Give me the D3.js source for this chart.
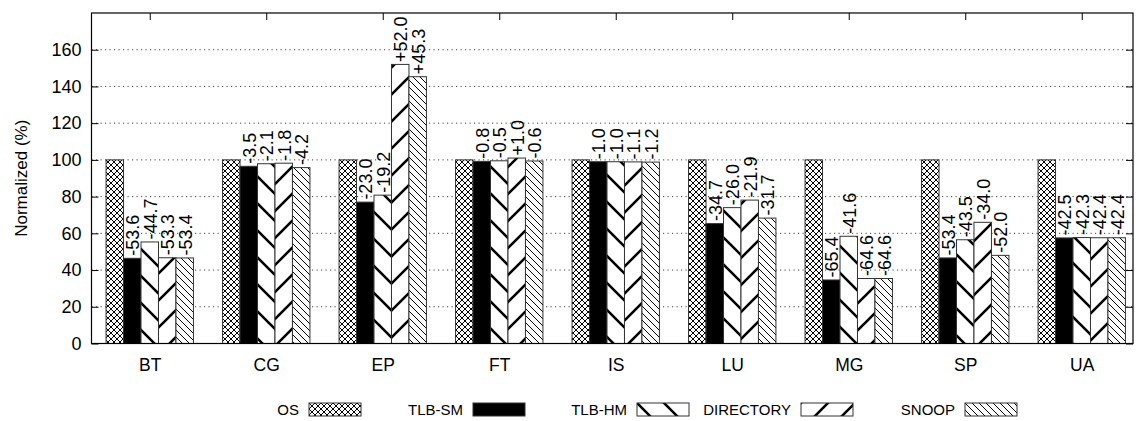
<!DOCTYPE html>
<html>
<head>
	<meta charset="utf-8">
	<title>Normalized bars</title>
	<script type="text/javascript" src="https://cdn.jsdelivr.net/npm/d3@7/dist/d3.min.js"></script>
	<style>
		body{margin:0;background:#fff;}
		svg text{font-family:"Liberation Sans",Arial,sans-serif;fill:#000;}
	</style>
</head>
<body>
	<svg width="1136" height="421"></svg>
	<script>
	/* data */
	var categories=["BT","CG","EP","FT","IS","LU","MG","SP","UA"];
	var seriesNames=["OS","TLB-SM","TLB-HM","DIRECTORY","SNOOP"];
	var osValues=[100,100,100,100,100,100,100,100,100];
	var tlbSmValues=[46.4,96.5,77.0,99.2,99.0,65.3,34.6,46.6,57.5];
	var tlbHmValues=[55.3,97.9,80.8,99.5,99.0,74.0,58.4,56.5,57.7];
	var directoryValues=[46.7,98.2,152.0,101.0,98.9,78.1,35.4,66.0,57.6];
	var snoopValues=[46.6,95.8,145.3,99.4,98.8,68.3,35.4,48.0,57.6];
	var tlbSmLabels=["-53.6","-3.5","-23.0","-0.8","-1.0","-34.7","-65.4","-53.4","-42.5"];
	var tlbHmLabels=["-44.7","-2.1","-19.2","-0.5","-1.0","-26.0","-41.6","-43.5","-42.3"];
	var directoryLabels=["-53.3","-1.8","+52.0","+1.0","-1.1","-21.9","-64.6","-34.0","-42.4"];
	var snoopLabels=["-53.4","-4.2","+45.3","-0.6","-1.2","-31.7","-64.6","-52.0","-42.4"];
	var yTicks=[0,20,40,60,80,100,120,140,160];

	var seriesValues=[osValues,tlbSmValues,tlbHmValues,directoryValues,snoopValues];
	var seriesLabels=[null,tlbSmLabels,tlbHmLabels,directoryLabels,snoopLabels];
	var fills=["url(#p-os)","#000","url(#p-hm)","url(#p-dir)","url(#p-snoop)"];

	var svg=d3.select("svg");
	var plotL=91.5,plotR=1133,plotT=13,plotB=343.5;
	var barW=0.15;

	/* patterns */
	var defs=svg.append("defs");
	var C=6;
	var pOs=defs.append("pattern").attr("id","p-os").attr("patternUnits","userSpaceOnUse")
		.attr("width",C).attr("height",C);
	pOs.append("rect").attr("width",C).attr("height",C).attr("fill","#fff");
	pOs.append("path").attr("d","M-1,-1L"+(C+1)+","+(C+1)+"M"+(C+1)+",-1L-1,"+(C+1))
		.attr("stroke","#000").attr("stroke-width",1.2).attr("shape-rendering","crispEdges");

	var P=27;
	var pHm=defs.append("pattern").attr("id","p-hm").attr("patternUnits","userSpaceOnUse")
		.attr("width",P).attr("height",P);
	pHm.append("rect").attr("width",P).attr("height",P).attr("fill","#fff");
	pHm.append("path").attr("d","M-3,-3L"+(P+3)+","+(P+3)+"M-3,"+(P-3)+"L3,"+(P+3)+"M"+(P-3)+",-3L"+(P+3)+",3")
		.attr("stroke","#000").attr("stroke-width",2.6);

	var pDir=defs.append("pattern").attr("id","p-dir").attr("patternUnits","userSpaceOnUse")
		.attr("width",P).attr("height",P);
	pDir.append("rect").attr("width",P).attr("height",P).attr("fill","#fff");
	pDir.append("path").attr("d","M-3,"+(P+3)+"L"+(P+3)+",-3M-3,3L3,-3M"+(P-3)+","+(P+3)+"L"+(P+3)+","+(P-3))
		.attr("stroke","#000").attr("stroke-width",2.6);

	var S=7;
	var pSn=defs.append("pattern").attr("id","p-snoop").attr("patternUnits","userSpaceOnUse")
		.attr("width",S).attr("height",S);
	pSn.append("rect").attr("width",S).attr("height",S).attr("fill","#fff");
	pSn.append("path").attr("d","M-1,-1L"+(S+1)+","+(S+1)+"M-1,"+(S-1)+"L1,"+(S+1)+"M"+(S-1)+",-1L"+(S+1)+",1")
		.attr("stroke","#000").attr("stroke-width",1);

	/* scales */
	var x=d3.scaleLinear().domain([-0.5,8.44]).range([plotL,plotR]);
	var y=d3.scaleLinear().domain([0,180]).range([plotB,plotT]);

	/* grid */
	svg.append("g").selectAll("line")
		.data(yTicks.filter(function(d){return d>0;}))
		.enter().append("line")
		.attr("x1",plotL).attr("x2",plotR)
		.attr("y1",function(d){return y(d);}).attr("y2",function(d){return y(d);})
		.attr("stroke","#444").attr("stroke-width",1).attr("stroke-dasharray","1.2,3.3");

	/* axes */
	var yAxis=svg.append("g").attr("transform","translate("+plotL+",0)")
		.call(d3.axisLeft(y).tickValues(yTicks).tickSizeInner(-7).tickSizeOuter(0).tickPadding(10));
	yAxis.selectAll("text").style("font-size","18px");
	svg.append("g").attr("transform","translate("+plotR+",0)")
		.call(d3.axisRight(y).tickValues(yTicks).tickSizeInner(-7).tickSizeOuter(0).tickFormat(""));
	svg.append("g").attr("transform","translate(0,"+plotT+")")
		.call(d3.axisTop(x).tickValues(d3.range(categories.length)).tickSizeInner(-7).tickSizeOuter(0).tickFormat(""));
	var xAxis=svg.append("g").attr("transform","translate(0,"+plotB+")")
		.call(d3.axisBottom(x).tickValues(d3.range(categories.length)).tickSizeInner(-7).tickSizeOuter(0)
			.tickPadding(15).tickFormat(function(d){return categories[d];}));
	xAxis.selectAll("text").style("font-size","17.5px");
	svg.selectAll(".domain").remove();

	/* bars */
	seriesValues.forEach(function(vals,j){
		var g=svg.append("g");
		g.selectAll("rect").data(vals).enter().append("rect")
			.attr("x",function(d,i){return x(i+(j-2.5)*barW);})
			.attr("width",x(barW)-x(0))
			.attr("y",function(d){return y(d);})
			.attr("height",function(d){return plotB-y(d);})
			.attr("fill",fills[j])
			.attr("stroke","#333").attr("stroke-width",1);
		if(seriesLabels[j]){
			g.selectAll("text").data(vals).enter().append("text")
				.attr("transform",function(d,i){
					return "translate("+x(i+(j-2)*barW)+","+(y(d)-2.5)+") rotate(-90)";
				})
				.attr("dy","0.38em")
				.style("font-size","18px")
				.text(function(d,i){return seriesLabels[j][i];});
		}
	});

	/* frame */
	svg.append("rect").attr("x",plotL).attr("y",plotT)
		.attr("width",plotR-plotL).attr("height",plotB-plotT)
		.attr("fill","none").attr("stroke","#000").attr("stroke-width",1.2);

	/* y label */
	svg.append("text")
		.attr("transform","translate(27,"+((plotT+plotB)/2)+") rotate(-90)")
		.attr("text-anchor","middle")
		.style("font-size","17px")
		.text("Normalized (%)");

	/* legend */
	var legend=svg.append("g").selectAll("g").data(seriesNames).enter().append("g")
		.attr("transform",function(d,i){return "translate("+(309+i*164)+",403)";});
	legend.append("rect").attr("width",52).attr("height",13)
		.attr("fill",function(d,i){return fills[i];})
		.attr("stroke","#333").attr("stroke-width",1);
	legend.append("text").attr("x",-10).attr("y",11.5)
		.attr("text-anchor","end").style("font-size","15px")
		.text(function(d){return d;});
	</script>
</body>
</html>
